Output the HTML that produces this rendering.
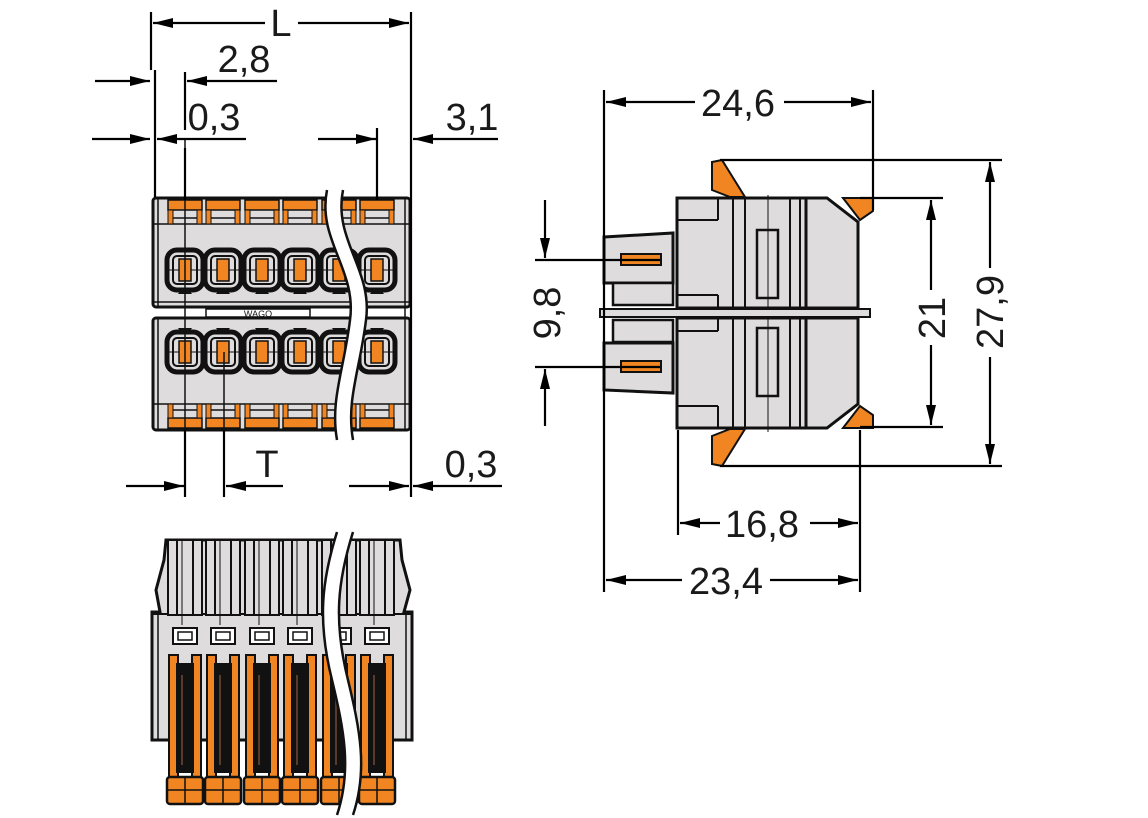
<!DOCTYPE html>
<html><head><meta charset="utf-8"><style>
html,body{margin:0;padding:0;background:#fff}
svg{display:block}
text{font-family:"Liberation Sans",sans-serif;font-size:38px;fill:#1a1a1a}
</style></head><body>
<svg width="1148" height="818" viewBox="0 0 1148 818" xmlns="http://www.w3.org/2000/svg">
<defs>
<marker id="a" viewBox="0 0 20 10" refX="20" refY="5" markerWidth="20" markerHeight="10" markerUnits="userSpaceOnUse" orient="auto"><path d="M0,0L20,5L0,10z" fill="#000"/></marker>
<g id="sock">
 <rect x="-18" y="-20" width="36" height="40" rx="10" fill="#dedcdd" stroke="#111" stroke-width="5"/>
 <rect x="-12" y="-14" width="24" height="28" rx="4" fill="none" stroke="#111" stroke-width="2"/>
 <line x1="-18" y1="0" x2="18" y2="0" stroke="#111" stroke-width="1"/>
 <rect x="-6" y="-11" width="12" height="22" fill="#f08522" stroke="#111" stroke-width="1.5"/>
 <path d="M-7,24 L7,24 L4,20 L-4,20 Z" fill="#111"/>
</g>
<g id="tstrip">
 <rect x="-17" y="0" width="34" height="10" fill="#f08522" stroke="#111" stroke-width="1.5"/>
 <rect x="-17" y="10" width="5" height="14" fill="#f08522" stroke="#111" stroke-width="1"/>
 <rect x="12" y="10" width="5" height="14" fill="#f08522" stroke="#111" stroke-width="1"/>
 <line x1="-12" y1="18" x2="12" y2="18" stroke="#111" stroke-width="1.5"/>
</g>
<g id="pin">
 <rect x="-16" y="0" width="9" height="125" fill="#f08522" stroke="#111" stroke-width="2"/>
 <rect x="7" y="0" width="9" height="125" fill="#f08522" stroke="#111" stroke-width="2"/>
 <rect x="-9" y="8" width="18" height="110" fill="#111"/>
 <line x1="-3" y1="20" x2="-3" y2="110" stroke="#5a3a2a" stroke-width="2"/>
 <rect x="-18" y="122" width="36" height="27" rx="3" fill="#f08522" stroke="#111" stroke-width="2.5"/>
 <line x1="0" y1="122" x2="0" y2="149" stroke="#111" stroke-width="1.5"/>
 <line x1="-18" y1="135" x2="18" y2="135" stroke="#111" stroke-width="1.5"/>
</g>
<g id="top2">
 <rect x="-17" y="0" width="34" height="75" fill="#dedcdd" stroke="#111" stroke-width="2"/>
 <line x1="-8" y1="0" x2="-8" y2="75" stroke="#111" stroke-width="2"/>
 <line x1="8" y1="0" x2="8" y2="75" stroke="#111" stroke-width="2"/>
 <line x1="-3" y1="0" x2="-3" y2="85" stroke="#111" stroke-width="1"/>
 <rect x="-12" y="88" width="24" height="16" fill="#fff" stroke="#111" stroke-width="2"/>
 <rect x="-7" y="92" width="14" height="8" fill="none" stroke="#111" stroke-width="1.5"/>
</g>
</defs>

<!-- ===== Top-left view ===== -->
<rect x="153" y="198" width="257" height="109" rx="3" fill="#dedcdd" stroke="#111" stroke-width="3"/>
<rect x="153" y="318" width="257" height="112" rx="3" fill="#dedcdd" stroke="#111" stroke-width="3"/>
<line x1="158" y1="198" x2="158" y2="307" stroke="#111" stroke-width="1.5"/>
<line x1="405" y1="198" x2="405" y2="430" stroke="#111" stroke-width="1.5"/>
<line x1="158" y1="318" x2="158" y2="430" stroke="#111" stroke-width="1.5"/>
<line x1="153" y1="224" x2="410" y2="224" stroke="#111" stroke-width="1.5"/>
<line x1="153" y1="404" x2="410" y2="404" stroke="#111" stroke-width="1.5"/>
<line x1="153" y1="302" x2="410" y2="302" stroke="#111" stroke-width="1.5"/>
<use href="#tstrip" x="185" y="200"/><use href="#tstrip" x="223" y="200"/><use href="#tstrip" x="262" y="200"/><use href="#tstrip" x="300" y="200"/><use href="#tstrip" x="339" y="200"/><use href="#tstrip" x="377" y="200"/>
<g transform="translate(0,628) scale(1,-1)">
<use href="#tstrip" x="185" y="200"/><use href="#tstrip" x="223" y="200"/><use href="#tstrip" x="262" y="200"/><use href="#tstrip" x="300" y="200"/><use href="#tstrip" x="339" y="200"/><use href="#tstrip" x="377" y="200"/>
</g>
<use href="#sock" x="185" y="270"/><use href="#sock" x="223" y="270"/><use href="#sock" x="262" y="270"/><use href="#sock" x="300" y="270"/><use href="#sock" x="339" y="270"/><use href="#sock" x="377" y="270"/>
<g transform="translate(0,622) scale(1,-1)">
<use href="#sock" x="185" y="270"/><use href="#sock" x="223" y="270"/><use href="#sock" x="262" y="270"/><use href="#sock" x="300" y="270"/><use href="#sock" x="339" y="270"/><use href="#sock" x="377" y="270"/>
</g>
<line x1="185" y1="140" x2="185" y2="497" stroke="#111" stroke-width="1.5"/>
<line x1="224" y1="352" x2="224" y2="497" stroke="#111" stroke-width="1.5"/>
<rect x="206" y="309" width="104" height="8" fill="#fff" stroke="#111" stroke-width="1.5"/>
<text x="258" y="317" text-anchor="middle" style="font-size:9px">WAGO</text>
<path d="M335,190 C325,240 365,270 358,320 C352,370 338,400 345,440" fill="none" stroke="#fff" stroke-width="16"/>
<path d="M327,190 C317,240 357,270 350,320 C344,370 330,400 337,440" fill="none" stroke="#111" stroke-width="2.5"/>
<path d="M343,190 C333,240 373,270 366,320 C360,370 346,400 353,440" fill="none" stroke="#111" stroke-width="2.5"/>

<!-- dimension lines top-left -->
<g stroke="#000" stroke-width="2.2" fill="none">
<line x1="151" y1="12" x2="151" y2="70"/>
<line x1="155" y1="70" x2="155" y2="197"/>
<line x1="411" y1="12" x2="411" y2="497"/>
<line x1="185" y1="72" x2="185" y2="130"/><line x1="185" y1="148" x2="185" y2="200"/><line x1="185" y1="430" x2="185" y2="497"/>
<line x1="224" y1="430" x2="224" y2="497"/>
<line x1="377" y1="128" x2="377" y2="200"/>
<line x1="265" y1="23" x2="153" y2="23" marker-end="url(#a)"/>
<line x1="298" y1="23" x2="409" y2="23" marker-end="url(#a)"/>
<line x1="95" y1="81" x2="150" y2="81" marker-end="url(#a)"/>
<line x1="277" y1="81" x2="187" y2="81" marker-end="url(#a)"/>
<line x1="92" y1="139" x2="150" y2="139" marker-end="url(#a)"/>
<line x1="246" y1="139" x2="157" y2="139" marker-end="url(#a)"/>
<line x1="318" y1="139" x2="376" y2="139" marker-end="url(#a)"/>
<line x1="498" y1="139" x2="413" y2="139" marker-end="url(#a)"/>
<line x1="126" y1="486" x2="184" y2="486" marker-end="url(#a)"/>
<line x1="283" y1="486" x2="226" y2="486" marker-end="url(#a)"/>
<line x1="349" y1="486" x2="409" y2="486" marker-end="url(#a)"/>
<line x1="502" y1="486" x2="413" y2="486" marker-end="url(#a)"/>
</g>
<text x="281" y="36" text-anchor="middle">L</text>
<text x="244" y="72" text-anchor="middle">2,8</text>
<text x="214" y="130" text-anchor="middle">0,3</text>
<text x="472" y="130" text-anchor="middle">3,1</text>
<text x="267" y="477" text-anchor="middle">T</text>
<text x="471" y="477" text-anchor="middle">0,3</text>

<!-- ===== Bottom-left view ===== -->
<path d="M166,540 L400,540 L402,560 L410,590 L404,612 L412,612 L412,740 L152,740 L152,612 L160,612 L156,590 L164,560 Z" fill="#dedcdd" stroke="#111" stroke-width="3"/>
<line x1="152" y1="614" x2="412" y2="614" stroke="#111" stroke-width="2"/>
<line x1="158" y1="614" x2="158" y2="740" stroke="#111" stroke-width="1.5"/>
<line x1="406" y1="614" x2="406" y2="740" stroke="#111" stroke-width="1.5"/>
<use href="#top2" x="185" y="540"/><use href="#top2" x="223" y="540"/><use href="#top2" x="262" y="540"/><use href="#top2" x="300" y="540"/><use href="#top2" x="339" y="540"/><use href="#top2" x="377" y="540"/>
<use href="#pin" x="185" y="655"/><use href="#pin" x="223" y="655"/><use href="#pin" x="262" y="655"/><use href="#pin" x="300" y="655"/><use href="#pin" x="339" y="655"/><use href="#pin" x="377" y="655"/>
<path d="M345,532 C330,580 325,620 340,680 C352,730 360,770 345,815" fill="none" stroke="#fff" stroke-width="16"/>
<path d="M337,532 C322,580 317,620 332,680 C344,730 352,770 337,815" fill="none" stroke="#111" stroke-width="2.5"/>
<path d="M353,532 C338,580 333,620 348,680 C360,730 368,770 353,815" fill="none" stroke="#111" stroke-width="2.5"/>

<!-- ===== Right side view ===== -->
<g stroke="#111" stroke-width="3" fill="#dedcdd">
<path d="M604,237 L673,233 L673,283 L604,283 Z"/>
<path d="M604,343 L673,343 L673,393 L604,390 Z"/>
<rect x="613" y="283" width="60" height="22" stroke-width="2.5"/>
<rect x="613" y="320" width="60" height="22" stroke-width="2.5"/>
<rect x="677" y="198" width="129" height="110"/>
<rect x="677" y="318" width="129" height="110"/>
<path d="M806,198 L827,198 L858,222 L858,308 L806,308 Z"/>
<path d="M806,428 L827,428 L858,404 L858,318 L806,318 Z"/>
</g>
<g stroke="#111" stroke-width="2" fill="none">
<line x1="677" y1="220" x2="718" y2="220"/><line x1="718" y1="198" x2="718" y2="220"/>
<line x1="677" y1="406" x2="718" y2="406"/><line x1="718" y1="406" x2="718" y2="428"/>
<line x1="677" y1="295" x2="718" y2="295"/><line x1="718" y1="295" x2="718" y2="308"/>
<line x1="677" y1="331" x2="718" y2="331"/><line x1="718" y1="318" x2="718" y2="331"/>
<line x1="733" y1="198" x2="733" y2="428"/><line x1="745" y1="198" x2="745" y2="428"/>
<line x1="790" y1="198" x2="790" y2="428"/><line x1="800" y1="198" x2="800" y2="428"/>
<line x1="768" y1="195" x2="768" y2="432" stroke-width="1"/>
<rect x="757" y="230" width="21" height="68" stroke-width="2.5"/>
<rect x="757" y="328" width="21" height="68" stroke-width="2.5"/>
</g>
<rect x="600" y="309" width="270" height="8" fill="#dedcdd" stroke="#111" stroke-width="2"/>
<rect x="621" y="254" width="40" height="11" fill="#f08522" stroke="#111" stroke-width="2"/>
<rect x="621" y="361" width="40" height="11" fill="#f08522" stroke="#111" stroke-width="2"/>
<g fill="#f08522" stroke="#111" stroke-width="2">
<path d="M712,162 L722,160 L745,197 L730,197 L712,190 Z"/>
<path d="M712,464 L722,466 L745,429 L730,429 L712,436 Z"/>
<path d="M843,198 L873,198 L873,211 L860,220 Z"/>
<path d="M843,428 L873,428 L873,415 L860,406 Z"/>
</g>

<g stroke="#000" stroke-width="2.2" fill="none">
<line x1="604" y1="90" x2="604" y2="592"/>
<line x1="873" y1="90" x2="873" y2="210"/>
<line x1="720" y1="160" x2="1002" y2="160"/>
<line x1="720" y1="466" x2="1002" y2="466"/>
<line x1="860" y1="198" x2="943" y2="198"/>
<line x1="860" y1="427" x2="943" y2="427"/>
<line x1="535" y1="260" x2="660" y2="260"/>
<line x1="535" y1="367" x2="660" y2="367"/>
<line x1="678" y1="430" x2="678" y2="535"/>
<line x1="860" y1="430" x2="860" y2="592"/>
<line x1="695" y1="102" x2="606" y2="102" marker-end="url(#a)"/>
<line x1="784" y1="102" x2="871" y2="102" marker-end="url(#a)"/>
<line x1="990" y1="268" x2="990" y2="162" marker-end="url(#a)"/>
<line x1="990" y1="357" x2="990" y2="464" marker-end="url(#a)"/>
<line x1="931" y1="290" x2="931" y2="200" marker-end="url(#a)"/>
<line x1="931" y1="345" x2="931" y2="425" marker-end="url(#a)"/>
<line x1="545" y1="200" x2="545" y2="258" marker-end="url(#a)"/>
<line x1="545" y1="426" x2="545" y2="369" marker-end="url(#a)"/>
<line x1="720" y1="523" x2="680" y2="523" marker-end="url(#a)"/>
<line x1="810" y1="523" x2="858" y2="523" marker-end="url(#a)"/>
<line x1="682" y1="580" x2="606" y2="580" marker-end="url(#a)"/>
<line x1="770" y1="580" x2="858" y2="580" marker-end="url(#a)"/>
</g>
<text x="738" y="116" text-anchor="middle">24,6</text>
<text x="762" y="537" text-anchor="middle">16,8</text>
<text x="726" y="594" text-anchor="middle">23,4</text>
<text transform="translate(1003,312) rotate(-90)" text-anchor="middle">27,9</text>
<text transform="translate(945,318) rotate(-90)" text-anchor="middle">21</text>
<text transform="translate(560,313) rotate(-90)" text-anchor="middle">9,8</text>
</svg>
</body></html>
